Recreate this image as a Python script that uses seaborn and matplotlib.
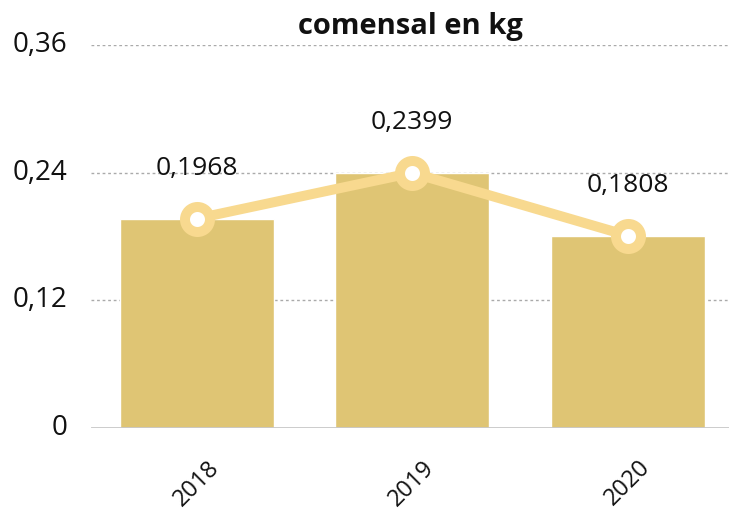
import matplotlib
matplotlib.use("Agg")
import matplotlib.pyplot as plt
import seaborn as sns

# data
years = ["2018", "2019", "2020"]
values = [0.1968, 0.2399, 0.1808]
y_ticks = [0, 0.12, 0.24, 0.36]
y_tick_labels = ["0", "0,12", "0,24", "0,36"]
title = "comensal en kg"

sns.set_style("white")
plt.rcParams["font.family"] = ["Open Sans", "DejaVu Sans"]

fig = plt.figure(figsize=(7.29, 5.18), dpi=100)
ax = fig.add_axes([0.125, 0.174, 0.875, 0.739])

sns.barplot(x=years, y=values, color="#dfc574", saturation=1, width=0.715, ax=ax, zorder=2)

# overlay line with ring markers
ax.plot(range(len(years)), values, color="#f8d98f", linewidth=7.2, marker="o",
        markersize=18, markerfacecolor="white", markeredgecolor="#f8d98f",
        markeredgewidth=7.2, zorder=4, solid_capstyle="round")

for i, v in enumerate(values):
    ax.annotate(f"{v:.4f}".replace(".", ","), (i, v), xytext=(0, 36),
                textcoords="offset points", ha="center", va="center",
                fontsize=19, color="#111111", zorder=5)

ax.set_ylim(0, 0.36)
ax.set_xlim(-0.49, 2.47)
ax.set_yticks(y_ticks)
ax.set_yticklabels(y_tick_labels)
for t in y_ticks[1:]:
    ax.axhline(t, color="#aaaaaa", linestyle=(0, (2, 2)), linewidth=1, zorder=1)
ax.axhline(0, color="#c8c8c8", linewidth=2, zorder=3)

ax.tick_params(axis="y", labelsize=20, length=0, pad=17, labelcolor="#111111")
ax.tick_params(axis="x", labelsize=17, length=0, pad=20, labelrotation=45, labelcolor="#111111")
for lab in ax.get_yticklabels():
    lab.set_verticalalignment("center")
for s in ax.spines.values():
    s.set_visible(False)
ax.set_xlabel("")
ax.set_ylabel("")
ax.set_title(title, fontsize=21, fontweight="bold", pad=8, color="#111111")

fig.savefig("out.png", dpi=100)
